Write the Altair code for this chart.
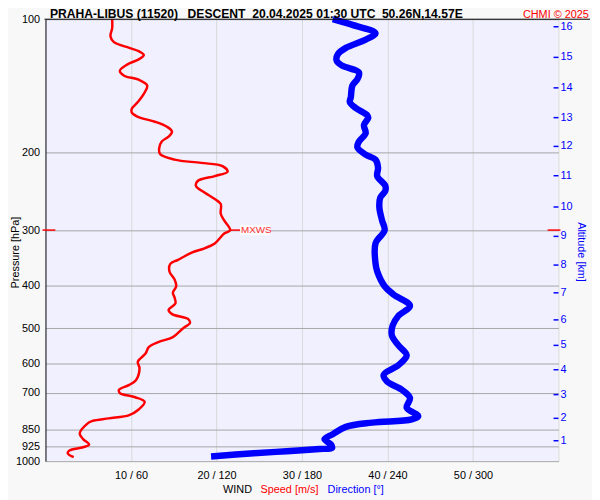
import altair as alt
import pandas as pd

# ---- data ----
speed_p = [100, 104.7, 109.3, 112.7, 116.1, 118.1, 120.5, 123.3, 126.5, 130.8,
           134.2, 137.0, 141.3, 147.6, 154.0, 159.4, 162.7, 166.3, 170.6, 175.1,
           179.6, 184.3, 189.1, 195.7, 201.9, 207.8, 211.4, 215.0, 221.4, 226.4,
           232.3, 238.3, 246.7, 255.2, 261.8, 275.6, 285.3, 300, 305.5, 321.6,
           329.9, 337.5, 350.4, 357.7, 372.1, 388.3, 401.9, 415.8, 426.6, 439.3,
           454.7, 464.8, 477.0, 486.8, 500.3, 524.0, 537.6, 551.6, 570.9, 595.8,
           616.6, 654.9, 672.0, 689.3, 701.2, 716.8, 734.3, 764.0, 786.4, 800.2,
           811.0, 825.3, 865.7, 891.4, 917.4, 930.2, 946.2, 959.4, 979.3]
speed_v = [7.8, 7.8, 7.6, 8.0, 9.8, 10.9, 11.5, 10.9, 9.6, 8.7,
           9.2, 10.9, 11.9, 11.5, 10.8, 10.1, 10.1, 10.8, 12.8, 14.2,
           14.8, 14.4, 13.6, 13.3, 13.4, 15.1, 18.2, 20.7, 21.3, 19.8,
           17.8, 17.6, 18.6, 19.8, 20.5, 20.5, 20.9, 21.6, 20.9, 19.8,
           18.6, 17.1, 15.5, 14.6, 14.5, 15.1, 15.3, 14.9, 15.1, 15.2,
           14.4, 14.8, 16.7, 16.9, 16.1, 14.9, 13.2, 12.1, 11.7, 10.8,
           11.0, 10.6, 9.8, 8.6, 8.7, 10.5, 11.6, 10.9, 9.8, 7.4,
           5.5, 4.8, 4.0, 4.4, 5.1, 4.4, 2.8, 2.6, 3.3]

dir_p = [100, 103.0, 107.5, 111.2, 116.1, 120.1, 124.3, 127.5, 132.0, 136.6,
         141.3, 150.1, 154.0, 158.8, 164.9, 167.2, 173.6, 181.2, 189.1, 195.0,
         202.5, 207.8, 216.9, 226.4, 238.3, 244.5, 253.1, 266.4, 285.3, 300.3,
         321.6, 356.4, 372.1, 401.9, 419.4, 445.4, 468.9, 493.6, 519.7, 547.1,
         575.9, 606.3, 638.2, 660.3, 689.3, 719.4, 757.4, 790.4, 804.3, 818.0,
         836.3, 868.8, 891.4, 917.4, 933.6, 938.4, 949.6, 959.4, 975.8]
dir_deg = [201.6, 215.4, 231.6, 224.7, 210.8, 205.1, 204.4, 208.5, 220.0, 218.9,
           215.4, 214.3, 213.6, 217.7, 225.8, 226.5, 223.5, 224.7, 220.0, 218.9,
           224.7, 231.6, 233.4, 232.8, 238.5, 238.5, 235.0, 234.3, 236.2, 238.0,
           231.6, 231.6, 232.8, 238.0, 244.2, 255.8, 247.7, 243.6, 243.1, 247.7,
           253.5, 247.7, 237.3, 239.7, 250.1, 255.8, 253.5, 261.6, 257.0, 229.3,
           210.8, 201.6, 195.8, 200.4, 201.1, 192.3, 169.3, 146.2, 116.2]

alt_km = [1, 2, 3, 4, 5, 6, 7, 8, 9, 10, 11, 12, 13, 14, 15, 16]
alt_p = [899, 800, 707, 621, 547, 479, 416, 360, 310, 266, 226, 194, 167, 143, 122, 104]

p_ticks = [100, 200, 300, 400, 500, 600, 700, 850, 925, 1000]
x_ticks = [10, 20, 30, 40, 50, 60]
mxws_p = [300]
mxws_v = [21.6]

title_parts = ["PRAHA-LIBUS (11520)", "DESCENT", "20.04.2025 01:30 UTC", "50.26N,14.57E"]

FONT = "Liberation Sans"
W, H = 520, 448

speed_df = pd.DataFrame({"p": speed_p, "v": speed_v, "i": range(len(speed_p))})
dir_df = pd.DataFrame({"p": dir_p, "d": dir_deg, "i": range(len(dir_p))})
alt_df = pd.DataFrame({"p": alt_p, "km": alt_km})
mx_df = pd.DataFrame({"p": mxws_p, "v": mxws_v})

yscale = alt.Scale(type="log", domain=[100, 1000], reverse=True, nice=False)
xscale = alt.Scale(domain=[0, 60], nice=False, zero=False)

xaxis = alt.Axis(values=x_ticks,
                 labelExpr="datum.value < 60 ? datum.value + ' / ' + datum.value * 6 : ''",
                 grid=True, gridColor="#d9d9d9", gridWidth=1, domain=False, ticks=False,
                 tickSize=0, labelPadding=9, labelFontSize=11, labelColor="#000",
                 labelFont=FONT, title=None)
yaxis = alt.Axis(values=p_ticks, labelExpr="format(datum.value, 'd')",
                 grid=True, gridColor="#a6a6a6", gridWidth=1, domain=True,
                 domainColor="#000", domainWidth=1, ticks=False, tickSize=0,
                 labelPadding=6, labelFontSize=11, labelColor="#000", labelFont=FONT,
                 title="Pressure [hPa]", titleFont=FONT, titleFontSize=11,
                 titleFontWeight="normal", titleColor="#000", titleAngle=270,
                 titleX=-30, titleY=236, titleAlign="center", titleBaseline="middle")


def Y():
    return alt.Y("p:Q", scale=yscale, axis=yaxis)


def X(field):
    return alt.X(field, scale=xscale, axis=xaxis)


red = alt.Chart(speed_df).mark_line(color="#ff0000", strokeWidth=2.5,
                                    interpolate="catmull-rom").encode(
    x=X("v:Q"), y=Y(), order="i:Q")

blue = alt.Chart(dir_df).transform_calculate(xs="datum.d / 6").mark_line(
    color="#0000ff", strokeWidth=6.5, interpolate="catmull-rom").encode(
    x=X("xs:Q"), y=Y(), order="i:Q")

alt_ticks = alt.Chart(alt_df).mark_rule(color="#0000ff", strokeWidth=1.5).encode(
    x=alt.value(515), x2=alt.value(520), y=Y())
alt_labels = alt.Chart(alt_df).mark_text(color="#0000ff", align="left", baseline="middle",
                                         fontSize=11, font=FONT).encode(
    x=alt.value(522), y=Y(), text="km:Q")

red_l = alt.Chart(mx_df).mark_rule(color="#ff0000", strokeWidth=1.5).encode(
    x=alt.value(-3), x2=alt.value(10), y=Y())
red_r = alt.Chart(mx_df).mark_rule(color="#ff0000", strokeWidth=1.5).encode(
    x=alt.value(509), x2=alt.value(522), y=Y())

mx_base = alt.Chart(mx_df).transform_calculate(v2="datum.v + 1.15", v3="datum.v + 4.7")
mx_bg = mx_base.mark_rect(color="#ffffff", opacity=0.7, height=11).encode(
    x=X("v2:Q"), x2="v3:Q", y=Y())
mx_line = mx_base.mark_rule(color="#ff0000", strokeWidth=1.5).encode(
    x=X("v:Q"), x2="v2:Q", y=Y())
mx_text = mx_base.mark_text(color="#ff3030", align="left", baseline="middle",
                            fontSize=10, font=FONT, dx=1).encode(
    x=X("v2:Q"), y=Y(), text=alt.value("MXWS"))

one = pd.DataFrame({"a": [0]})
top_line = alt.Chart(one).mark_rule(color="#000", strokeWidth=1).encode(
    x=alt.value(-1), x2=alt.value(552), y=alt.value(0))


def label(txt, x, y, color="#000", size=11, weight="normal", align="left", angle=0,
          baseline="alphabetic"):
    kw = dict(color=color, fontSize=size, fontWeight=weight, align=align,
              baseline=baseline, font=FONT)
    if angle:
        kw["angle"] = angle
    return alt.Chart(one).mark_text(**kw).encode(
        x=alt.value(x), y=alt.value(y), text=alt.value(txt))


title_x = [4.5, 144, 209.5, 341]
titles = [label(t, x, -1.5, size=12.3, weight="bold") for t, x in zip(title_parts, title_x)]
chmi = label("CHMI \u00a9 2025", 484, -1.5, color="#ff0000", size=11)

wind = label("WIND", 180, 477, baseline="middle")
spd = label("Speed [m/s]", 218, 477, color="#ff0000", baseline="middle")
drc = label("Direction [\u00b0]", 286, 477, color="#0000ff", baseline="middle")
alt_title = label("Altitude [km]", 543, 236, color="#0000ff", align="center",
                  angle=90, baseline="middle")

chart = alt.layer(
    red, blue, alt_ticks, alt_labels, red_l, red_r, mx_bg, mx_line, mx_text,
    top_line, *titles, chmi, wind, spd, drc, alt_title
).properties(
    width=W, height=H,
    padding={"left": 38, "top": 8, "right": 34, "bottom": 36},
    autosize=alt.AutoSizeParams(type="none"),
    background="#f8f8f8",
).configure_view(fill="#f0f0ff", stroke=None)

chart.save("out.html", embed_options={"renderer": "svg", "actions": False})
